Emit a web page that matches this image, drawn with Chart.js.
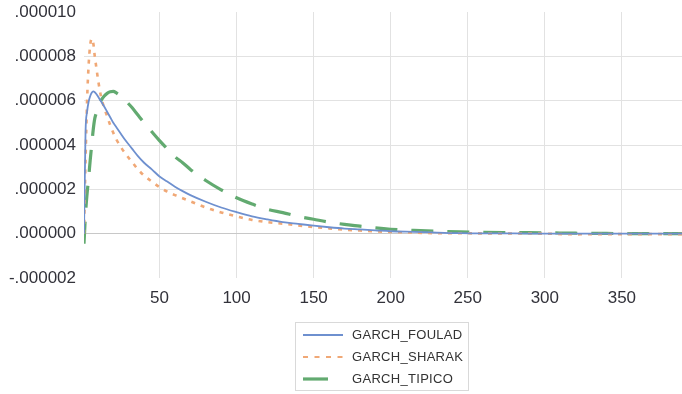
<!DOCTYPE html>
<html>
<head>
<meta charset="utf-8">
<script src="https://cdn.jsdelivr.net/npm/chart.js@4"></script>
<style>
  body { margin: 0; background: #fff; }
  #wrap { position: relative; width: 682px; height: 394px; }
  #legendBox {
    position: absolute; left: 295px; top: 322px; width: 174px; height: 69px;
    border: 1px solid #d9d9d9; box-sizing: border-box;
    font-family: "Liberation Sans", Arial, sans-serif; font-size: 13px; color: #333;
  }
  .item { position: absolute; left: 0; height: 16px; }
  .item svg { position: absolute; left: 7px; top: 0; }
  .item span { position: absolute; left: 56px; top: 0; line-height: 16px; letter-spacing: 0.3px; }
</style>
</head>
<body>
<div id="wrap">
  <canvas id="myChart" width="682" height="394"></canvas>
  <div id="legendBox"></div>
</div>
<script>
"use strict";
const steps = [1, 2, 3, 4, 5, 6, 7, 8, 9, 10, 12, 14, 16, 18, 20, 22, 25, 28, 32, 36, 40, 45, 50, 55, 60, 65, 70,
  80, 90, 100, 110, 120, 130, 140, 150, 160, 170, 180, 190, 200, 215, 230, 245, 260, 280, 300, 320, 340, 360, 389];

const seriesNames = ["GARCH_FOULAD", "GARCH_SHARAK", "GARCH_TIPICO"];

const foulad = [0, 4.6e-6, 5.5e-6, 5.95e-6, 6.2e-6, 6.36e-6, 6.42e-6, 6.38e-6, 6.3e-6, 6.2e-6,
  5.97e-6, 5.75e-6, 5.5e-6, 5.25e-6, 5.0e-6, 4.8e-6,
  4.5e-6, 4.2e-6, 3.85e-6, 3.5e-6, 3.2e-6, 2.9e-6, 2.58e-6, 2.35e-6, 2.12e-6, 1.92e-6, 1.74e-6,
  1.44e-6, 1.18e-6, 0.97e-6, 0.78e-6, 0.64e-6, 0.52e-6, 0.44e-6, 0.36e-6, 0.29e-6, 0.23e-6, 0.19e-6, 0.15e-6, 0.11e-6,
  0.08e-6, 0.05e-6, 0.02e-6, 0.01e-6, 0.01e-6, 0, 0, 0, 0, 0];

const sharak = [0, 3.3e-6, 6.0e-6, 7.6e-6, 8.5e-6, 8.8e-6, 8.6e-6, 8.0e-6, 7.5e-6, 7.0e-6,
  6.2e-6, 5.7e-6, 5.3e-6, 4.9e-6, 4.55e-6, 4.25e-6,
  3.9e-6, 3.6e-6, 3.25e-6, 2.9e-6, 2.62e-6, 2.35e-6, 2.1e-6, 1.9e-6, 1.74e-6, 1.6e-6, 1.46e-6,
  1.18e-6, 0.96e-6, 0.78e-6, 0.62e-6, 0.52e-6, 0.45e-6, 0.37e-6, 0.3e-6, 0.24e-6, 0.18e-6, 0.14e-6, 0.1e-6, 0.08e-6,
  0.05e-6, 0.02e-6, 0.02e-6, 0.01e-6, 0.01e-6, 0, -0.03e-6, -0.02e-6, -0.02e-6, -0.02e-6];

const tipico = [-0.45e-6, 0.9e-6, 1.8e-6, 2.5e-6, 3.3e-6, 4.0e-6, 4.7e-6, 5.2e-6, 5.45e-6, 5.7e-6,
  6.0e-6, 6.2e-6, 6.33e-6, 6.4e-6, 6.42e-6, 6.35e-6,
  6.2e-6, 6.0e-6, 5.7e-6, 5.35e-6, 5.0e-6, 4.6e-6, 4.2e-6, 3.83e-6, 3.47e-6, 3.2e-6, 2.9e-6,
  2.4e-6, 1.98e-6, 1.62e-6, 1.34e-6, 1.1e-6, 0.95e-6, 0.78e-6, 0.65e-6, 0.52e-6, 0.42e-6, 0.34e-6, 0.26e-6, 0.2e-6,
  0.15e-6, 0.11e-6, 0.08e-6, 0.06e-6, 0.05e-6, 0.04e-6, 0.02e-6, 0.01e-6, 0, 0];

const xTicks = [50, 100, 150, 200, 250, 300, 350];
const yTickValues = [-0.000002, 0, 0.000002, 0.000004, 0.000006, 0.000008, 0.00001];
const yTickLabels = ["-.000002", ".000000", ".000002", ".000004", ".000006", ".000008", ".000010"];

const colors = {
  blue: "rgb(110,144,207)",
  orange: "rgb(240,168,118)",
  green: "rgb(98,170,112)",
  grid: "rgb(226,226,226)",
  zero: "rgb(200,200,200)",
  text: "rgb(50,50,58)"
};
const styles = [
  { color: colors.blue, width: 1.8, dash: [] },
  { color: colors.orange, width: 2.6, dash: [4, 6] },
  { color: colors.green, width: 3.2, dash: [22, 14] }
];

function toPoints(values) {
  return values.map((v, i) => ({ x: steps[i], y: v }));
}

const tickFont = { family: "'Liberation Sans', Arial, sans-serif", size: 17 };

const chart = new Chart(document.getElementById("myChart"), {
  type: "line",
  data: {
    datasets: [foulad, sharak, tipico].map((vals, i) => ({
      label: seriesNames[i],
      data: toPoints(vals),
      borderColor: styles[i].color,
      borderWidth: styles[i].width,
      borderDash: styles[i].dash,
      borderCapStyle: "butt",
      pointRadius: 0,
      cubicInterpolationMode: "monotone",
      fill: false
    }))
  },
  options: {
    responsive: false,
    animation: false,
    layout: { padding: { top: 12, right: 0, bottom: 86, left: 0 } },
    plugins: { legend: { display: false }, tooltip: { enabled: false } },
    scales: {
      x: {
        type: "linear",
        min: 1,
        max: 389,
        afterBuildTicks: (scale) => { scale.ticks = xTicks.map(v => ({ value: v })); },
        afterFit: (scale) => { scale.height = 30; },
        border: { display: false },
        grid: { color: colors.grid, drawTicks: false, lineWidth: 1 },
        ticks: { color: colors.text, font: tickFont, padding: 10, maxRotation: 0, autoSkip: false }
      },
      y: {
        min: -0.000002,
        max: 0.00001,
        afterBuildTicks: (scale) => { scale.ticks = yTickValues.map(v => ({ value: v })); },
        afterFit: (scale) => {
          scale.width = 84;
          // let the top label hang over the padding, as in the original
          scale.paddingTop = 0;
          scale.paddingBottom = 0;
        },
        border: { display: false },
        grid: {
          drawTicks: false,
          color: (c) => {
            const v = c.tick ? c.tick.value : null;
            if (v === 0) return colors.zero;
            if (v === yTickValues[0] || v === yTickValues[yTickValues.length - 1]) return "rgba(0,0,0,0)";
            return colors.grid;
          }
        },
        ticks: {
          color: colors.text, font: tickFont, padding: 8,
          callback: (v, i) => yTickLabels[i]
        }
      }
    }
  }
});

// legend, one series per row, in a bordered box like the original
const legendBox = document.getElementById("legendBox");
const rowTops = [4, 26, 48];
seriesNames.forEach((name, i) => {
  const row = document.createElement("div");
  row.className = "item";
  row.style.top = rowTops[i] + "px";
  const st = styles[i];
  const len = i === 2 ? 25 : 40;
  row.innerHTML =
    `<svg width="44" height="16"><line x1="0" y1="8" x2="${len}" y2="8" stroke="${st.color}" ` +
    `stroke-width="${i === 2 ? 3.2 : 2}" stroke-dasharray="${i === 1 ? "5 6.5" : "none"}"/></svg>` +
    `<span>${name}</span>`;
  legendBox.append(row);
});
</script>
</body>
</html>
